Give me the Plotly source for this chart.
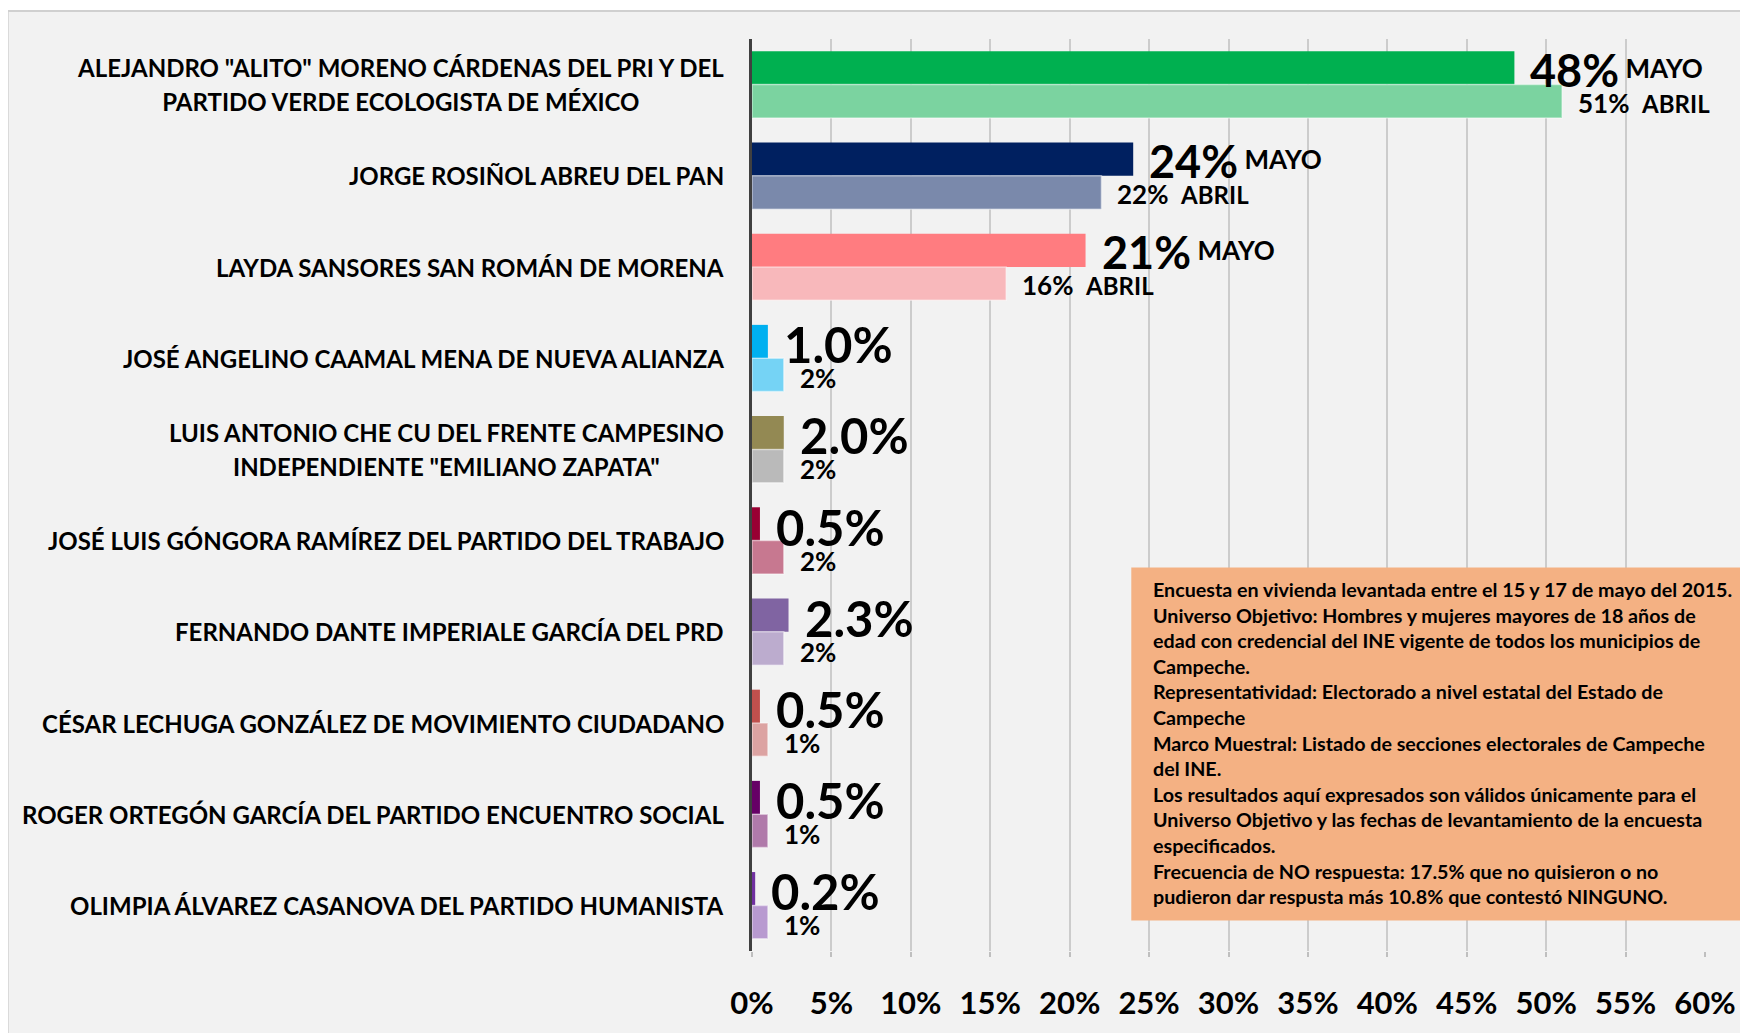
import plotly.graph_objects as go

# candidates, top to bottom (<br> = line break in the label)
candidatos = [
    'ALEJANDRO "ALITO" MORENO CÁRDENAS DEL PRI Y DEL<br>PARTIDO VERDE ECOLOGISTA DE MÉXICO',
    'JORGE ROSIÑOL ABREU DEL PAN',
    'LAYDA SANSORES SAN ROMÁN DE MORENA',
    'JOSÉ ANGELINO CAAMAL MENA DE NUEVA ALIANZA',
    'LUIS ANTONIO CHE CU DEL FRENTE CAMPESINO<br>INDEPENDIENTE "EMILIANO ZAPATA"',
    'JOSÉ LUIS GÓNGORA RAMÍREZ DEL PARTIDO DEL TRABAJO',
    'FERNANDO DANTE IMPERIALE GARCÍA DEL PRD',
    'CÉSAR LECHUGA GONZÁLEZ DE MOVIMIENTO CIUDADANO',
    'ROGER ORTEGÓN GARCÍA DEL PARTIDO ENCUENTRO SOCIAL',
    'OLIMPIA ÁLVAREZ CASANOVA DEL PARTIDO HUMANISTA',
]

mayo = [48, 24, 21, 1.0, 2.0, 0.5, 2.3, 0.5, 0.5, 0.2]
abril = [51, 22, 16, 2, 2, 2, 2, 1, 1, 1]

mayo_txt = ["48%", "24%", "21%", "1.0%", "2.0%", "0.5%", "2.3%", "0.5%", "0.5%", "0.2%"]
abril_txt = ["51%", "22%", "16%", "2%", "2%", "2%", "2%", "1%", "1%", "1%"]
mayo_palabra = ["MAYO", "MAYO", "MAYO", "", "", "", "", "", "", ""]
abril_palabra = ["ABRIL", "ABRIL", "ABRIL", "", "", "", "", "", "", ""]

colores_mayo = ["#00b050", "#002060", "#ff7c80", "#00b0f0", "#938953",
                "#990033", "#8064a2", "#c0504d", "#660066", "#7030a0"]
colores_abril = ["#7bd3a0", "#7a89ab", "#f8b8bb", "#75d3f5", "#bababa",
                 "#c77890", "#bcacce", "#dca3a2", "#b07aaa", "#b89ad0"]

ticks_x = [0, 5, 10, 15, 20, 25, 30, 35, 40, 45, 50, 55, 60]

FUENTE = "Lato"

fig = go.Figure()
fig.add_trace(go.Bar(y=candidatos, x=mayo, orientation="h", name="MAYO",
                     marker=dict(color=colores_mayo, line=dict(width=0))))
fig.add_trace(go.Bar(y=candidatos, x=abril, orientation="h", name="ABRIL",
                     marker=dict(color=colores_abril,
                                 line=dict(color="rgba(255,255,255,0.45)", width=1.5))))

anots = []
# candidate names, centred lines, right-anchored next to the axis
for c in candidatos:
    lineas = "<br>".join("<span style='font-size:24px'>%s</span>" % l for l in c.split("<br>"))
    anots.append(dict(x=0, y=c, xref="x", yref="y", text=lineas, showarrow=False,
                      xanchor="right", xshift=-26, align="center",
                      font=dict(family=FUENTE, size=26.5, color="black", weight="bold")))

# value labels
for i, c in enumerate(candidatos):
    t = mayo_txt[i]
    if mayo_palabra[i]:
        t += "<span style='font-size:26px;baseline-shift:9px'> %s</span>" % mayo_palabra[i]
        tam, dy = 45, 15
    else:
        tam, dy = 49, 14
    anots.append(dict(x=mayo[i], y=c, xref="x", yref="y", text=t, showarrow=False,
                      xanchor="left", xshift=14, yshift=dy,
                      font=dict(family=FUENTE, size=tam, color="black", weight="bold")))
    t = abril_txt[i]
    if abril_palabra[i]:
        t += "  " + "<span style='font-size:24px'>%s</span>" % abril_palabra[i]
        dy = -18
    else:
        dy = -20
    anots.append(dict(x=abril[i], y=c, xref="x", yref="y", text=t, showarrow=False,
                      xanchor="left", xshift=14, yshift=dy,
                      font=dict(family=FUENTE, size=26, color="black", weight="bold")))

nota = [
    "Encuesta en vivienda levantada entre el 15 y 17 de mayo del 2015.",
    "Universo Objetivo: Hombres y mujeres mayores de 18 años de",
    "edad con credencial del INE vigente de todos los municipios de",
    "Campeche.",
    "Representatividad: Electorado a nivel estatal del Estado de",
    "Campeche",
    "Marco Muestral: Listado de secciones electorales de Campeche",
    "del INE.",
    "Los resultados aquí expresados son válidos únicamente para el",
    "Universo Objetivo y las fechas de levantamiento de la encuesta",
    "especificados.",
    "Frecuencia de NO respuesta: 17.5% que no quisieron o no",
    "pudieron dar respusta más 10.8% que contestó NINGUNO.",
]
anots.append(dict(x=0.419, y=0.4115, xref="paper", yref="paper", showarrow=False,
                  xanchor="left", yanchor="top", align="left",
                  text="<br>".join(nota),
                  font=dict(family=FUENTE, size=19.7, color="black", weight="bold")))

fig.update_layout(
    width=1740, height=1025,
    margin=dict(l=744, r=39, t=31, b=79),
    paper_bgcolor="white", plot_bgcolor="#f2f2f2",
    barmode="group", bargap=0.269, bargroupgap=0,
    showlegend=False,
    annotations=anots,
    shapes=[
        # chart area background with its thin border
        dict(type="rect", xref="paper", yref="paper", x0=-0.781, x1=1.05, y0=-0.1, y1=1.0306,
             fillcolor="#f2f2f2", line=dict(color="#d0d0d0", width=2), layer="below"),
        # note box
        dict(type="rect", xref="paper", yref="paper", x0=0.398, x1=1.05, y0=0.0335, y1=0.4205,
             fillcolor="#f4b183", line=dict(width=0), layer="above"),
    ],
)
fig.update_xaxes(range=[0, 60], tickvals=ticks_x, ticktext=["%d%%" % v for v in ticks_x],
                 showgrid=True, gridcolor="#cccccc", gridwidth=1.5, zeroline=False,
                 ticks="outside", ticklen=5, tickcolor="#bfbfbf", tickwidth=1.5,
                 ticklabelstandoff=20,
                 tickfont=dict(family=FUENTE, size=31, color="black", weight="bold"))
fig.update_yaxes(autorange="reversed", showticklabels=False, showgrid=False, ticks="",
                 showline=True, linecolor="#404040", linewidth=3)

fig.write_html("out.html")
